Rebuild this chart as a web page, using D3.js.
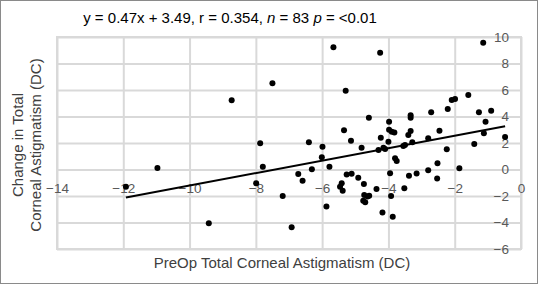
<!DOCTYPE html>
<html>
<head>
<meta charset="utf-8">
<script src="https://cdn.jsdelivr.net/npm/d3@7"></script>
<style>
    body { margin: 0; background: #fff; }
    text { font-family: "Liberation Sans", Arial, sans-serif; }
</style>
</head>
<body>
<div id="grafico"></div>
<script>

// Valores
const preOp = [
    -1.14, -2.09, -1.99, -1.59, -2.21, -2.71, -1.27, -0.90, -1.07, -1.12,
    -0.48, -1.41, -2.46, -2.80, -3.33, -3.33, -3.33, -3.40, -3.28, -3.50,
    -2.24, -3.98, -3.98, -3.90, -3.82, -4.23, -4.00, -4.30, -4.15, -4.10,
    -3.55, -3.80, -3.75, -4.59, -5.34, -5.13, -4.81, -5.78, -5.66, -4.25,
    -7.50, -5.29, -7.87, -6.40, -5.99, -8.73, -10.97, -11.92, -9.42, -6.01,
    -7.79, -7.99, -6.72, -6.59, -6.31, -7.19, -6.92, -5.87, -5.26, -5.11,
    -4.91, -4.74, -5.41, -5.46, -5.38, -4.36, -4.73, -4.63, -4.58, -4.76,
    -4.70, -4.18, -3.87, -3.95, -3.92, -3.52, -3.38, -3.15, -2.80, -2.53,
    -2.52, -1.86
]
const mudanca = [
    9.57, 5.25, 5.32, 5.62, 4.57, 4.32, 4.32, 4.44, 3.61, 2.73,
    2.45, 1.92, 2.93, 2.35, 4.10, 3.90, 2.90, 2.60, 2.05, 1.85,
    1.52, 3.60, 3.00, 2.85, 2.80, 2.40, 2.10, 1.47, 1.65, 1.55,
    1.77, 0.85, 0.64, 3.91, 2.96, 2.17, 1.65, 0.21, 9.22, 8.82,
    6.51, 5.95, 1.98, 2.05, 1.72, 5.22, 0.11, -1.30, -4.06, 0.92,
    0.21, -1.04, -0.34, -0.84, 0.02, -2.00, -4.36, -2.80, -0.38, -0.32,
    -0.62, -1.09, -1.04, -1.30, -1.60, -1.48, -1.92, -2.03, -1.98, -2.35,
    -2.48, -3.25, -3.56, -0.29, -2.00, -1.42, -0.47, -0.30, -0.05, -0.67,
    0.47, 0.10
]

// Eixos e textos
const ticks_x = [-14, -12, -10, -8, -6, -4, -2, 0]
const ticks_y = [-6, -4, -2, 0, 2, 4, 6, 8, 10]
const inclinacao = 0.47
const intercepto = 3.49
const titulo_y = ["Change in Total", "Corneal Astigmatism (DC)"]
const titulo_x = "PreOp Total Corneal Astigmatism (DC)"

// Configurações do gráfico
let width = 538
let height = 284
let area = { left: 57, right: 521, top: 37, bottom: 249 }

let svg = d3.select('#grafico').append('svg')
    .attr('width', width)
    .attr('height', height)

// Moldura externa
svg.append('rect')
    .attr('x', 0.5).attr('y', 0.5)
    .attr('width', width - 1).attr('height', height - 1)
    .attr('fill', '#fff')
    .attr('stroke', '#8a8a8a')

// Escalas
let x = d3.scaleLinear().domain([-14, 0]).range([area.left, area.right])
let y = d3.scaleLinear().domain([-6, 10]).range([area.bottom, area.top])

// Grade vertical
svg.append('g')
    .attr('transform', `translate(0, ${area.bottom})`)
    .call(d3.axisBottom(x).tickValues(ticks_x).tickSize(-(area.bottom - area.top)).tickFormat(''))
    .call(g => g.select('.domain').remove())
    .selectAll('line').attr('stroke', '#d9d9d9').attr('stroke-width', 2)

// Grade horizontal
svg.append('g')
    .attr('transform', `translate(${area.left}, 0)`)
    .call(d3.axisLeft(y).tickValues(ticks_y).tickSize(-(area.right - area.left)).tickFormat(''))
    .call(g => g.select('.domain').remove())
    .selectAll('line').attr('stroke', '#d9d9d9').attr('stroke-width', 2)

// Borda da área do gráfico
svg.append('rect')
    .attr('x', area.left).attr('y', area.top)
    .attr('width', area.right - area.left).attr('height', area.bottom - area.top)
    .attr('fill', 'none')
    .attr('stroke', '#d9d9d9')
    .attr('stroke-width', 2)

// Rótulos do eixo x (cruzando em y = 0)
let eixo_x = svg.append('g')
    .attr('transform', `translate(0, ${y(0)})`)
    .call(d3.axisBottom(x).tickValues(ticks_x).tickSize(0).tickPadding(14))
eixo_x.select('.domain').remove()
eixo_x.selectAll('text')
    .attr('fill', '#595959')
    .style('font-size', '13.5px')
    .style('font-family', '"Liberation Sans", Arial, sans-serif')

// Rótulos do eixo y (cruzando em x = 0)
let eixo_y = svg.append('g')
    .attr('transform', `translate(${x(0)}, 0)`)
    .call(d3.axisLeft(y).tickValues(ticks_y).tickSize(0).tickPadding(12))
eixo_y.select('.domain').remove()
eixo_y.selectAll('text')
    .attr('fill', '#595959')
    .style('font-size', '13.5px')
    .style('font-family', '"Liberation Sans", Arial, sans-serif')

// Pontos
const dados = preOp.map((v, i) => [v, mudanca[i]])
svg.append('g')
    .selectAll('circle')
    .data(dados)
    .join('circle')
    .attr('cx', d => x(d[0]))
    .attr('cy', d => y(d[1]))
    .attr('r', 3)
    .attr('fill', '#000')

// Linha de tendência
let extensao = d3.extent(preOp)
let linha = d3.line()
    .x(d => x(d))
    .y(d => y(inclinacao * d + intercepto))
svg.append('path')
    .datum(extensao)
    .attr('d', linha)
    .attr('fill', 'none')
    .attr('stroke', '#000')
    .attr('stroke-width', 2)

// Título com equação
let titulo = svg.append('text')
    .attr('x', 230)
    .attr('y', 23)
    .style('text-anchor', 'middle')
    .style('font-size', '15px')
    .attr('fill', '#000')
titulo.append('tspan').text('y = 0.47x + 3.49, r = 0.354, ')
titulo.append('tspan').style('font-style', 'italic').text('n')
titulo.append('tspan').text(' = 83 ')
titulo.append('tspan').style('font-style', 'italic').text('p')
titulo.append('tspan').text(' = <0.01')

// Título do eixo x
svg.append('text')
    .attr('x', 282)
    .attr('y', 268)
    .style('text-anchor', 'middle')
    .style('font-size', '15px')
    .attr('fill', '#404040')
    .text(titulo_x)

// Título do eixo y (duas linhas)
svg.append('text')
    .attr('transform', 'translate(23, 145) rotate(-90)')
    .style('text-anchor', 'middle')
    .style('font-size', '15px')
    .attr('fill', '#404040')
    .selectAll('tspan')
    .data(titulo_y)
    .join('tspan')
    .attr('x', 0)
    .attr('dy', (d, i) => i == 0 ? 0 : 18)
    .text(d => d)

</script>
</body>
</html>
